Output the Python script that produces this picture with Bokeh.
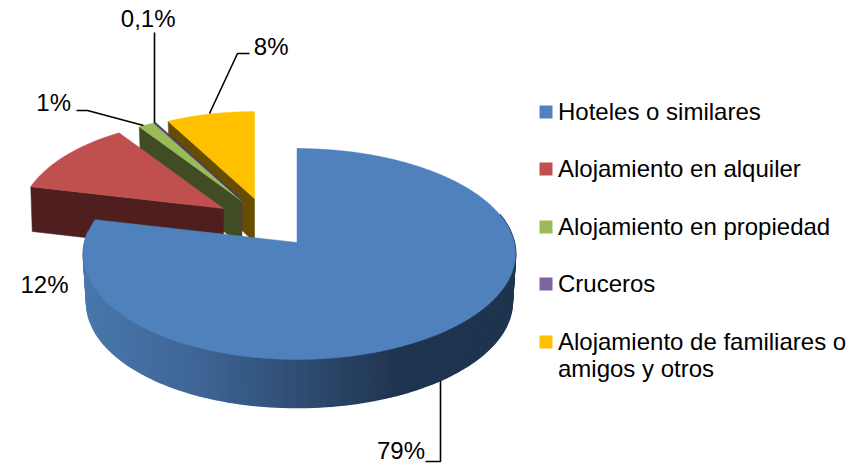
import numpy as np
from bokeh.plotting import figure
from bokeh.embed import file_html
from bokeh.resources import INLINE
from bokeh.core.properties import value

# ---- data ----
categories = ["Hoteles o similares", "Alojamiento en alquiler", "Alojamiento en propiedad",
              "Cruceros", "Alojamiento de familiares o\namigos y otros"]
shares = [79, 12, 1.4, 0.1, 8]
share_labels = ["79%", "12%", "1%", "0,1%", "8%"]

# ---- styles / layout ----
top_colors = ["#4f81bd", "#c0504d", "#9bbb59", "#8064a2", "#ffc000"]
side_colors = ["#1f3552", "#4f1f1f", "#3f4c24", "#4a3a70", "#664d00"]
# apex of each slice on the page, and its scale (perspective of an exploded slice)
apex_x = [296.5, 223.0, 240.5, 241.0, 254.0]
apex_y = [242.0, 208.0, 200.0, 199.5, 198.0]
scale = [1.0, 0.955, 0.93, 0.93, 0.925]
DEPTH = 47.0
FONT = value("Liberation Sans")
FS = "24px"
TEXT_SHIFT = -8

K, A, B = -0.109, 104.2, 214.7


def project(deg, s=1.0):
    t = np.radians(deg)
    u, v = np.sin(t), -np.cos(t)
    d = 1 + K * v
    return s * (B * u / d + 2.5 * u * u), s * (A * v / d)


p = figure(width=861, height=464, x_range=(0, 861), y_range=(464, 0),
           output_backend="svg", toolbar_location=None, min_border=0,
           outline_line_color=None, background_fill_color="white",
           border_fill_color="white",
           styles={"position": "absolute", "left": "0px", "top": "0px"})
p.axis.visible = False
p.grid.visible = False

total = sum(shares)
edges = np.concatenate([[0], np.cumsum(shares)]) / total * 360.0


def slice_xy(i):
    n = max(3, int((edges[i + 1] - edges[i]) * 2))
    th = np.linspace(edges[i], edges[i + 1], n)
    ox, oy = project(th, scale[i])
    return apex_x[i] + ox, apex_y[i] + oy


# back slices, in the order in which they overlap
for i in [4, 3, 2, 1]:
    xs, ys = slice_xy(i)
    d = DEPTH * scale[i]
    cx, cy = [apex_x[i], xs[0], xs[0] + 1.5, apex_x[i]], [apex_y[i], ys[0], ys[0] + d, apex_y[i] + d]
    p.patch(cx, cy, fill_color=side_colors[i], line_color=side_colors[i], line_width=0.5)
    p.patch([apex_x[i], *xs], [apex_y[i], *ys], fill_color=top_colors[i],
            line_color=top_colors[i], line_width=0.5)
    if i == 2:
        # the tiny slice shows only as a thin stroke beside this one
        txs, tys = slice_xy(3)
        p.line([txs[-1], apex_x[3], apex_x[3]], [tys[-1], apex_y[3], apex_y[3] + DEPTH * scale[3] - 4],
               line_color=side_colors[3], line_width=1.4)

# big slice: rim with a shading that runs from left to right
ramp_x = [85, 200, 300, 400, 515]
ramp_c = np.array([[0x4a, 0x77, 0xab], [0x3e, 0x65, 0x96], [0x2f, 0x4d, 0x72],
                   [0x20, 0x34, 0x4f], [0x1f, 0x34, 0x4f]], float)
th = np.arange(74.0, 277.0, 1.5)
ox, oy = project(th)
X, Y = apex_x[0] + ox, apex_y[0] + oy
for j in range(len(th) - 1):
    mx = (X[j] + X[j + 1]) / 2
    col = "#%02x%02x%02x" % tuple(int(np.interp(mx, ramp_x, ramp_c[:, c])) for c in range(3))
    bx0 = 299 + (X[j] - 299) * 0.985
    bx1 = 299 + (X[j + 1] - 299) * 0.985
    p.patch([X[j], X[j + 1], bx1, bx0],
            [Y[j], Y[j + 1], Y[j + 1] + DEPTH + 1, Y[j] + DEPTH + 1],
            fill_color=col, line_color=col, line_width=1.8)

xs, ys = slice_xy(0)
p.line([xs[0] + 1, apex_x[0] + 1], [ys[0], apex_y[0]], line_color=side_colors[0], line_width=2)
p.patch([apex_x[0], *xs], [apex_y[0], *ys], fill_color=top_colors[0], line_color=top_colors[0], line_width=0.5)

# leader lines
leaders_x = [[425, 440, 440], [76, 87, 143], [154, 154], [249, 237, 209]]
leaders_y = [[461, 461, 380], [110, 110, 125], [32, 122], [53, 53, 113]]
for lx, ly in zip(leaders_x, leaders_y):
    p.line(lx, ly, line_color="black", line_width=1.6)

# data labels: right edge and baseline
lab_x = [424.5, 68, 70.5, 175, 288]
lab_y = [458, 292, 110, 26, 54]
p.text(lab_x, [y + TEXT_SHIFT for y in lab_y], text=share_labels, text_font=FONT, text_font_size=FS,
       text_align="right", text_baseline="alphabetic", text_color="black")

# legend
leg_y = [111.5, 168.5, 226.5, 283.5, 341.5]
for y, c, name in zip(leg_y, top_colors, categories):
    p.quad(left=539, right=552, top=y - 6.5, bottom=y + 6.5, fill_color=c, line_color=None)
    for k, line in enumerate(name.split("\n")):
        p.text([557.5], [y + 7.5 + k * 27 + TEXT_SHIFT], text=[line], text_font=FONT, text_font_size=FS,
               text_align="left", text_baseline="alphabetic", text_color="black")

open("out.html", "w").write(file_html(p, INLINE))
